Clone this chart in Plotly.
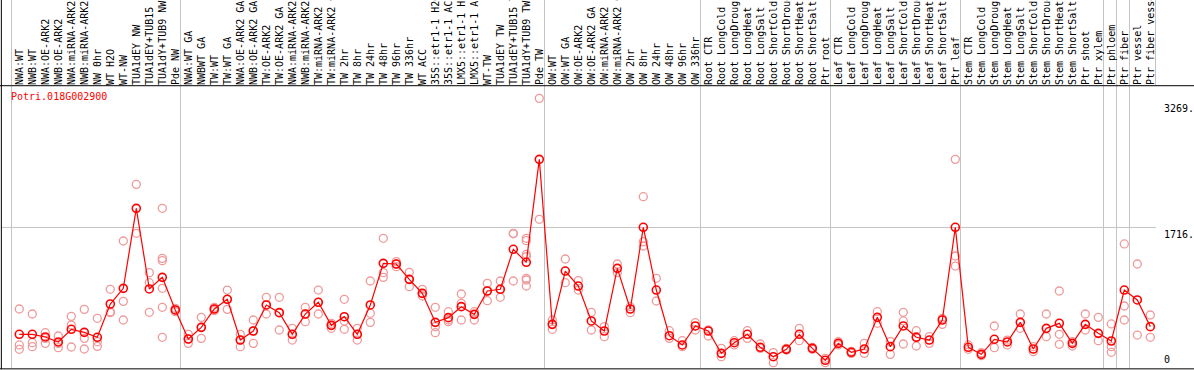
import plotly.graph_objects as go

# ---------------- data ----------------
gene_id = "Potri.018G002900"

samples = [
    "NWA:WT", "NWB:WT", "NWA:OE-ARK2", "NWB:OE-ARK2", "NWA:miRNA-ARK2", "NWB:miRNA-ARK2",
    "NW 0hr", "WT H2O", "WT-NW", "TUA1dEY NW", "TUA1dEY+TUB15 NW", "TUA1dY+TUB9 NW", "Pde NW",
    "NWA:WT GA", "NWBWT GA", "TW:WT", "TW:WT GA", "NWA:OE-ARK2 GA", "NWB:OE-ARK2 GA",
    "TW:OE-ARK2", "TW:OE-ARK2 GA", "NWA:miRNA-ARK2 GA", "NWB:miRNA-ARK2 GA", "TW:miRNA-ARK2",
    "TW:miRNA-ARK2 GA", "TW 2hr", "TW 8hr", "TW 24hr", "TW 48hr", "TW 96hr", "TW 336hr",
    "WT ACC", "35S::etr1-1 H2O", "35S::etr1-1 ACC", "LMX5::etr1-1 H2O", "LMX5::etr1-1 ACC",
    "WT-TW", "TUA1dEY TW", "TUA1dEY+TUB15 TW", "TUA1dY+TUB9 TW", "Pde TW",
    "OW:WT", "OW:WT GA", "OW:OE-ARK2", "OW:OE-ARK2 GA", "OW:miRNA-ARK2", "OW:miRNA-ARK2 GA",
    "OW 2hr", "OW 8hr", "OW 24hr", "OW 48hr", "OW 96hr", "OW 336hr",
    "Root CTR", "Root LongCold", "Root LongDrought", "Root LongHeat", "Root LongSalt",
    "Root ShortCold", "Root ShortDrought", "Root ShortHeat", "Root ShortSalt", "Ptr root",
    "Leaf CTR", "Leaf LongCold", "Leaf LongDrought", "Leaf LongHeat", "Leaf LongSalt",
    "Leaf ShortCold", "Leaf ShortDrought", "Leaf ShortHeat", "Leaf ShortSalt", "Ptr leaf",
    "Stem CTR", "Stem LongCold", "Stem LongDrought", "Stem LongHeat", "Stem LongSalt",
    "Stem ShortCold", "Stem ShortDrought", "Stem ShortHeat", "Stem ShortSalt",
    "Ptr shoot", "Ptr xylem", "Ptr phloem", "Ptr fiber", "Ptr vessel", "Ptr fiber vessel",
]

mean_expr = [
    396, 396, 363, 301, 458, 420, 359, 771, 965, 1955, 957, 1101, 697,
    338, 482, 709, 829, 325, 437, 759, 664, 396, 647, 792, 507, 614, 396, 759,
    1274, 1266, 1076, 903, 544, 602, 738, 643, 932, 953, 1448, 1287, 2561,
    519, 1179, 993, 561, 437, 1212, 709, 1720, 944, 379, 264, 499,
    437, 160, 292, 396, 235, 119, 210, 396, 222, 74,
    284, 173, 214, 606, 243, 499, 359, 325, 573, 1720,
    235, 148, 334, 301, 544, 214, 470, 532, 284, 519, 408,
    313, 944, 821, 491,
]

replicates = [
    [709, 264, 210], [647, 292, 243], [416, 346, 284], [375, 284, 231], [618, 511, 239],
    [705, 346, 214], [594, 305, 247], [953, 676, 664], [1551, 804, 573], [2252, 1646],
    [1159, 1035, 668], [1955, 1336, 1307, 965, 730, 359], [717, 697, 676],
    [396, 338, 284], [606, 482, 346], [730, 709, 689], [944, 829, 705], [396, 325, 243],
    [573, 437, 284], [854, 759, 647], [854, 664, 449], [470, 396, 325], [730, 647, 552],
    [944, 792, 647], [532, 507, 470], [829, 560, 458], [470, 396, 325], [1056, 656, 544],
    [1584, 1159, 1101], [1295, 1266, 1233], [1163, 1076, 986], [953, 903, 870],
    [730, 491, 416], [676, 573, 552], [895, 779, 573], [676, 643, 573], [1027, 932, 812],
    [1056, 953, 854], [1646, 1640, 1056], [1584, 1555, 1386, 1357, 1089, 1068, 994],
    [3316, 1819],
    [573, 519, 458], [1328, 1035], [1060, 944], [668, 449], [491, 367], [1266, 1159],
    [738, 664], [2099, 1542, 1489], [1089, 808], [441, 346], [317, 243], [540, 449],
    [449, 375], [222, 119], [317, 264], [441, 346], [276, 222], [169, 45], [222, 202],
    [470, 317], [235, 210], [99, 45],
    [305, 264], [185, 160], [284, 160], [676, 532], [305, 148], [668, 561, 276],
    [441, 367, 251], [367, 284], [594, 519], [2561, 1365, 1241],
    [264, 210], [169, 132], [499, 231], [325, 264], [647, 470], [243, 181], [647, 367],
    [932, 396, 272], [305, 251], [647, 449], [606, 317],
    [524, 243, 173], [1514, 746, 573], [1266, 387], [635, 359],
]

# first sample index of each group (dividers drawn just before them)
group_starts = [0, 13, 41, 53, 63, 73, 84, 85, 86, 88]
divider_offset = -0.62

y_ticks = [0, 1716, 3269]
y_tick_text = ["0", "1716.", "3269."]

# ---------------- figure ----------------
MONO = "DejaVu Sans Mono"
RED = "#ff0000"
PINK = "#ee9a9a"
GRID = "#c4c4c4"

x_idx = list(range(len(samples)))
rep_x = [i for i, reps in enumerate(replicates) for _ in reps]
rep_y = [v for reps in replicates for v in reps]

x_range = [-1.408, 87.438]
y_range = [-21, 3469]

fig = go.Figure()

fig.add_trace(go.Scatter(
    x=rep_x, y=rep_y, mode="markers", xaxis="x", yaxis="y",
    marker=dict(symbol="circle-open", size=8, color=PINK, line=dict(width=1.3, color=PINK)),
    hoverinfo="skip", showlegend=False,
))

fig.add_trace(go.Scatter(
    x=x_idx, y=mean_expr, mode="lines+markers", xaxis="x2", yaxis="y",
    line=dict(color=RED, width=1.2),
    marker=dict(symbol="circle-open", size=8, color=RED, line=dict(width=1.6, color=RED)),
    showlegend=False,
))

fig.update_layout(
    width=1194, height=370,
    margin=dict(l=1, r=38, t=86, b=2),
    paper_bgcolor="white", plot_bgcolor="white",
    showlegend=False,
    xaxis=dict(
        range=x_range, side="top",
        tickmode="array", tickvals=[s + divider_offset for s in group_starts],
        showticklabels=False, ticks="outside", ticklen=86, tickwidth=1, tickcolor=GRID,
        showgrid=True, gridcolor=GRID, gridwidth=1,
        zeroline=False, showline=False, automargin=False, fixedrange=True,
    ),
    xaxis2=dict(
        range=x_range, overlaying="x", side="top",
        tickmode="array", tickvals=x_idx, ticktext=samples,
        tickangle=-90, ticks="", ticklabelstandoff=0,
        tickfont=dict(family=MONO, size=10, color="black"),
        showgrid=False, zeroline=False, showline=False, automargin=False, fixedrange=True,
    ),
    yaxis=dict(
        range=y_range, tickmode="array", tickvals=[y_ticks[1]],
        showticklabels=False, ticks="",
        showgrid=True, gridcolor=GRID, gridwidth=1,
        zeroline=False, showline=False, automargin=False, fixedrange=True,
    ),
)

# frame lines
line_k = dict(color="black", width=1)
fig.add_shape(type="line", xref="paper", yref="paper", x0=0.0003, x1=0.0003, y0=-0.004, y1=1.31, line=line_k)
fig.add_shape(type="line", xref="paper", yref="paper", x0=-0.01, x1=1.04, y0=-0.003, y1=-0.003, line=line_k)
fig.add_shape(type="line", xref="paper", yref="paper", x0=-0.01, x1=1.04, y0=1.001, y1=1.001, line=line_k)

# gene title
fig.add_annotation(
    text=gene_id, xref="paper", yref="paper", x=0.0072, y=0.961,
    xanchor="left", yanchor="middle", showarrow=False,
    font=dict(family=MONO, size=10, color=RED),
)

# right-hand value labels
for v, t in zip(y_ticks, y_tick_text):
    fig.add_annotation(
        text=t, xref="paper", yref="y", x=1.0062, y=v,
        xanchor="left", yanchor="bottom" if v == 0 else "top",
        showarrow=False, borderpad=0,
        font=dict(family=MONO, size=10, color="black"),
    )

fig.write_html(
    "out.html",
    config={"displayModeBar": False},
    post_script="document.body.style.margin='0px';document.body.style.overflow='hidden';",
)
